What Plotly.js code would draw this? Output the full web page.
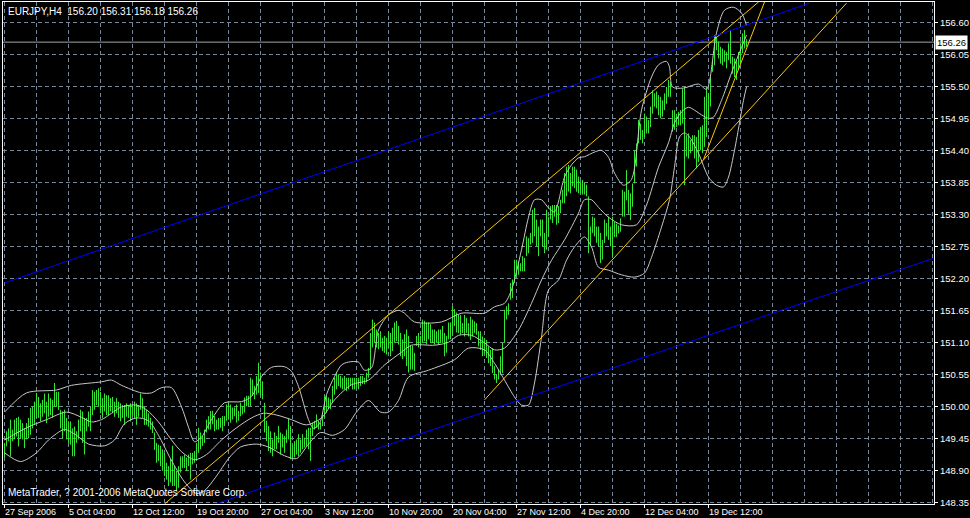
<!DOCTYPE html>
<html>
<head>
<meta charset="utf-8">
<script src="https://cdn.plot.ly/plotly-3.0.1.min.js"></script>
<style>html,body{margin:0;padding:0;background:#000;}#chart{width:970px;height:518px;}</style>
</head>
<body>
<div id="chart"></div>
<script>
// ---- Bar data (H4 bars, index 0 = 27 Sep 2006 20:00) ----
const barHigh = [
149.37,149.57,149.62,149.77,149.60,149.77,149.80,149.82,149.77,149.71,
149.62,149.71,149.80,149.97,149.99,150.08,150.23,150.16,150.05,150.11,
150.22,150.08,150.22,150.14,150.11,150.40,150.25,150.25,149.94,149.91,
149.94,149.80,149.74,149.74,149.62,149.65,149.57,149.77,149.94,149.91,
149.80,149.80,149.91,149.99,150.28,150.25,150.28,150.31,150.25,150.14,
150.22,150.19,150.19,150.14,150.16,150.08,150.14,150.08,150.05,150.02,
150.02,150.05,150.02,150.05,150.02,150.08,150.05,150.02,150.22,150.14,
149.99,149.94,149.88,149.80,149.74,
149.55,149.37,149.34,149.32,149.26,149.20,149.03,148.97,149.09,149.32,
148.97,148.89,148.97,149.14,149.14,149.17,149.12,149.17,149.20,149.20,
149.23,149.37,149.63,149.55,149.49,149.60,149.77,149.83,149.92,149.92,
149.83,149.77,149.80,149.80,149.83,149.83,150.03,150.06,150.03,149.98,
149.98,150.03,149.92,150.06,150.00,150.15,150.18,150.18,150.49,150.46,
150.35,150.52,150.75,150.58,150.43,150.06,149.75,149.66,149.57,149.43,
149.55,149.49,149.66,149.55,149.52,149.49,149.60,149.80,149.66,149.34,
149.40,149.43,149.52,149.43,149.52,149.46,149.60,149.63,149.63,
149.72,149.75,149.86,149.75,149.72,149.89,150.18,150.18,150.15,150.12,
150.35,150.49,150.58,150.55,150.52,150.49,150.52,150.49,150.49,150.49,
150.49,150.49,150.49,150.49,150.52,150.52,150.49,150.58,150.66,151.26,
151.49,151.44,151.32,151.26,151.29,151.18,151.21,151.18,151.29,151.26,
151.35,151.44,151.47,151.38,151.26,151.15,151.24,151.32,151.21,151.04,
151.04,150.92,151.21,151.26,151.21,151.49,151.47,151.44,151.44,151.41,
151.32,151.32,151.29,151.32,151.32,151.38,151.26,151.21,151.44,151.44,
151.72,151.67,151.61,
151.57,151.57,151.43,151.57,151.52,151.43,151.54,151.49,151.46,151.43,
151.29,151.29,151.20,151.17,151.14,151.03,150.97,151.00,150.69,150.54,
150.63,150.86,151.09,151.66,151.72,151.77,152.12,152.18,152.52,152.52,
152.49,152.46,152.58,152.55,152.92,152.89,152.98,153.38,153.41,153.21,
153.09,153.21,153.21,152.98,153.38,153.26,153.44,153.46,153.46,153.46,
153.44,153.55,153.72,154.01,154.12,154.15,154.01,154.12,154.12,154.07,
153.95,153.87,153.89,153.84,153.81,153.61,153.09,153.26,153.24,153.09,
153.09,152.98,152.86,153.21,153.15,153.26,153.09,
153.26,153.17,153.14,153.11,153.23,153.72,153.69,154.06,153.72,153.66,
153.83,154.40,154.52,154.92,154.86,154.75,155.03,154.98,154.92,155.15,
155.43,155.38,155.41,155.35,155.32,155.26,155.38,155.49,155.61,155.58,
155.09,155.09,155.03,155.06,155.09,155.46,155.49,154.66,154.69,154.58,
154.66,154.66,154.63,154.75,154.80,154.83,155.32,155.49,155.38,155.66,
155.95,156.38,156.35,156.27,156.18,156.15,156.12,156.09,156.24,156.47,
156.01,155.98,155.95,156.09,156.24,156.41,156.47,156.31
];
const barLow = [
149.11,149.31,149.40,149.14,149.40,149.43,149.48,149.31,149.45,149.43,
149.28,149.43,149.45,149.51,149.62,149.68,149.80,149.80,149.74,149.82,
149.88,149.71,149.82,149.85,149.80,149.99,149.99,149.94,149.62,149.45,
149.57,149.43,149.37,149.34,149.14,149.14,149.37,149.43,149.57,149.37,
149.17,149.57,149.65,149.57,149.85,149.94,150.02,149.99,149.88,149.80,
149.91,149.85,149.85,149.91,149.88,149.82,149.88,149.80,149.74,149.80,
149.68,149.82,149.80,149.74,149.85,149.80,149.68,149.82,149.94,149.80,
149.68,149.68,149.65,149.60,149.54,
149.25,149.03,149.06,148.97,148.89,148.80,148.74,148.63,148.69,148.63,
148.63,148.54,148.60,148.86,148.94,148.94,148.89,148.97,148.74,149.00,
149.03,149.09,149.20,149.26,149.32,149.37,149.55,149.60,149.60,149.69,
149.57,149.60,149.60,149.63,149.57,149.66,149.75,149.77,149.72,149.77,
149.83,149.72,149.75,149.83,149.86,149.89,150.00,150.00,150.00,150.18,
150.12,150.20,150.23,150.18,150.12,149.55,149.40,149.23,149.20,149.14,
149.26,149.26,149.37,149.17,149.29,149.20,149.37,149.43,149.09,149.12,
149.12,149.17,149.14,149.20,149.26,149.29,149.32,149.26,149.06,
149.49,149.60,149.63,149.60,149.60,149.66,149.80,149.89,149.95,149.95,
150.06,150.20,150.29,150.35,150.32,150.29,150.29,150.26,150.29,150.35,
150.29,150.29,150.32,150.29,150.35,150.38,150.38,150.41,150.49,150.63,
151.01,151.09,151.01,150.98,151.01,150.95,150.92,150.89,151.01,150.86,
150.95,151.09,151.12,151.06,150.86,150.81,150.86,150.69,150.58,150.63,
150.63,150.61,151.04,151.01,151.04,151.09,151.12,151.06,151.15,151.09,
151.09,151.06,151.09,151.06,151.09,151.09,150.86,150.92,151.15,151.15,
151.21,151.38,151.27,
151.26,151.23,151.26,151.20,151.26,151.20,151.14,151.20,151.26,151.23,
151.03,150.97,150.86,150.91,150.83,150.74,150.69,150.57,150.46,150.40,
150.46,150.57,150.57,151.09,151.49,151.57,151.83,151.86,152.12,152.23,
152.26,152.32,152.32,152.32,152.58,152.63,152.78,152.81,152.92,152.75,
152.58,152.92,152.75,152.63,152.69,152.92,153.21,153.15,153.26,153.12,
153.15,153.32,153.49,153.49,153.61,153.69,153.66,153.78,153.75,153.69,
153.66,153.66,153.64,153.64,153.61,152.63,152.75,152.98,152.92,152.81,
152.75,152.46,152.52,152.81,152.92,152.86,152.75,
152.57,152.91,152.91,152.97,153.00,153.26,153.26,153.54,153.31,153.20,
153.43,153.83,154.12,154.52,154.58,154.52,154.63,154.69,154.69,154.80,
155.03,155.15,155.12,155.00,154.95,154.98,155.09,155.20,155.32,155.32,
154.72,154.75,154.80,154.83,154.83,154.86,153.80,154.29,154.26,154.35,
154.40,154.26,154.09,154.20,154.40,154.35,154.46,154.63,154.92,155.15,
155.75,155.86,156.12,155.98,155.89,155.86,155.92,155.81,155.95,155.89,
155.72,155.66,155.61,155.78,155.89,156.07,156.15,156.18
];

// ---- Bollinger bands (read at sample bars) ----
const bbUpperIdx = [0,11,26,33.5,48.5,53.5,58.5,68.5,73.5,78.5,83.5,88.5,92,95,98.5,103.5,110,118.5,123.5,128.5,133.5,140,143.5,147,152,154.5,157.5,161,165,168.5,172,177,180,183.5,187,192,197,200,205,218.5,228.5,240,245,250,253.5,258.5,262,265,268.5,272,275,280,283.5,287,290,295,298.5,302,305,309.5,313.5,318.5,323.5,327,331,332.5,334,339.5,347,351,356,360,364.5,368.5,371];
const bbUpperVal = [149.9,150.23,150.28,150.36,150.42,150.45,150.36,150.23,150.23,150.32,150.32,149.99,149.64,149.39,149.47,149.77,150.06,150.08,150.17,150.51,150.67,150.68,150.60,150.34,149.77,149.62,149.70,150.20,150.51,150.71,150.76,150.76,150.62,150.66,151.31,151.57,151.65,151.60,151.45,151.45,151.60,151.60,151.71,151.77,152.00,152.69,153.25,153.55,153.55,153.41,153.34,153.94,154.15,154.27,154.29,154.37,154.40,154.28,154.01,153.80,153.90,155.09,155.66,155.87,155.93,155.83,155.49,155.47,155.54,155.45,156.42,156.81,156.86,156.76,156.55];
const bbMidIdx = [0,11,21,31,38.5,43.5,48.5,53.5,58.5,66,71,77,83.5,88.5,95,101,108.5,116,123.5,129.5,136,143.5,151,158.5,165,173.5,182,190,198.5,203.5,215,222,227,233.5,240,245,250,257,263.5,268.5,273.5,280,287,290,293.5,297,302,308.5,316,321,327,332,335,338.5,342,345,348.5,352,354.5,358.5,363.5,367,371];
const bbMidVal = [149.42,149.63,149.77,149.90,149.81,149.73,149.77,149.88,149.99,150.02,149.94,149.73,149.42,149.22,149.08,149.17,149.42,149.63,149.80,149.88,149.85,149.77,149.68,149.80,150.11,150.37,150.45,150.71,150.93,151.05,151.05,151.10,151.22,151.22,151.09,150.97,151.00,151.31,151.77,152.17,152.51,152.86,153.32,153.55,153.55,153.42,153.25,153.12,153.12,153.46,154.11,154.53,154.87,155.06,155.14,155.09,155.01,154.95,154.97,155.26,155.73,156.04,156.38];
const bbLowerIdx = [0,8,16,22,30,36,42,50,55,60,66,72,77,83,90,96,100,106,112,118,126,132,140,146,152,158,164,170,176,182,188,192,197,202,212,225,232,240,245,250,255,258.5,262,265,268.5,272,277,281,285,290,293.5,297,302,308.5,315,320,323.5,328.5,332.5,335,337.5,340,342.5,347,352,356,359.5,362,365,367.5,369.5,371];
const bbLowerVal = [149.2,149.05,149.2,149.42,149.6,149.5,149.35,149.32,149.42,149.7,149.8,149.75,149.5,149.1,148.7,148.5,148.55,148.8,149.1,149.3,149.35,149.3,149.15,149.1,149.35,149.55,149.5,149.6,149.9,150.1,149.9,149.9,150.1,150.5,150.62,150.8,151.0,150.97,150.74,150.45,150.16,150.02,150.02,150.4,151.19,152.0,152.17,152.51,152.74,152.91,152.74,152.39,152.34,152.26,152.22,152.29,152.56,153.08,153.55,154.11,154.63,154.70,154.63,154.35,153.94,153.80,153.77,153.94,154.40,154.87,155.26,155.49];

// ---- Hand-drawn lines (bar index, price) ----
const goldLine1 = {i:[80,377], p:[148.32,156.95]};
const goldLine2 = {i:[240,421], p:[150.11,156.93]};
const goldLine3 = {i:[349.5,380], p:[154.24,156.95]};
const blueLine1 = {i:[0,402.5], p:[152.12,156.93]};
const blueLine2 = {i:[105.5,465], p:[148.32,152.55]};
const lastPrice = 156.26;

// ---- Axis ticks ----
const xTickIdx = [0,32,64,96,128,160,192,224,256,288,320,352];
const xTickText = ['27 Sep 2006','5 Oct 04:00','12 Oct 12:00','19 Oct 20:00','27 Oct 04:00','3 Nov 12:00','10 Nov 20:00','20 Nov 04:00','27 Nov 12:00','4 Dec 20:00','12 Dec 04:00','19 Dec 12:00'];
const yTickVals = [148.35,148.90,149.45,150.00,150.55,151.10,151.65,152.20,152.75,153.30,153.85,154.40,154.95,155.50,156.05,156.60];

const bx = [], by = [];
for (let i = 0; i < barHigh.length; i++) { bx.push(i, i, null); by.push(barLow[i], barHigh[i], null); }

const FONT = 'Liberation Sans, Arial, sans-serif';
const GRID = '#778899';
const xR = [-0.75, 464.75];

const traces = [
  {x: xR, y: [lastPrice, lastPrice], mode: 'lines', line: {color: '#a4a4a4', width: 1}, hoverinfo: 'skip'},
  {x: bx, y: by, mode: 'lines', line: {color: '#33e633', width: 1}, hoverinfo: 'skip'},
  {x: bbUpperIdx, y: bbUpperVal, mode: 'lines', line: {color: '#c8c8c8', width: 1, shape: 'spline', smoothing: 0.8}, hoverinfo: 'skip'},
  {x: bbMidIdx, y: bbMidVal, mode: 'lines', line: {color: '#c8c8c8', width: 1, shape: 'spline', smoothing: 0.8}, hoverinfo: 'skip'},
  {x: bbLowerIdx, y: bbLowerVal, mode: 'lines', line: {color: '#c8c8c8', width: 1, shape: 'spline', smoothing: 0.8}, hoverinfo: 'skip'},
  {x: goldLine1.i, y: goldLine1.p, mode: 'lines', line: {color: '#ffc800', width: 1}, hoverinfo: 'skip'},
  {x: goldLine2.i, y: goldLine2.p, mode: 'lines', line: {color: '#ffc800', width: 1}, hoverinfo: 'skip'},
  {x: goldLine3.i, y: goldLine3.p, mode: 'lines', line: {color: '#ffc800', width: 1}, hoverinfo: 'skip'},
  {x: blueLine1.i, y: blueLine1.p, mode: 'lines', line: {color: '#0000ff', width: 1}, hoverinfo: 'skip'},
  {x: blueLine2.i, y: blueLine2.p, mode: 'lines', line: {color: '#0000ff', width: 1}, hoverinfo: 'skip'}
];

const annotations = [
  {xref: 'paper', yref: 'paper', x: 0, y: 1, xanchor: 'left', yanchor: 'top', xshift: 3, yshift: -2,
   text: 'EURJPY,H4\u00a0\u00a0156.20 156.31 156.18 156.26', showarrow: false, font: {family: FONT, color: '#fff', size: 10}},
  {xref: 'paper', yref: 'paper', x: 0, y: 0, xanchor: 'left', yanchor: 'bottom', xshift: 3, yshift: 4,
   text: 'MetaTrader, ? 2001-2006 MetaQuotes Software Corp.', showarrow: false, font: {family: FONT, color: '#fff', size: 10}},
  {xref: 'paper', yref: 'y', x: 1, y: lastPrice, xanchor: 'left', yanchor: 'middle', xshift: 1,
   text: lastPrice.toFixed(2), showarrow: false, bgcolor: '#fff', borderpad: 1, font: {family: FONT, color: '#000', size: 9.5}}
];
xTickIdx.forEach((v, k) => annotations.push({
  xref: 'x', yref: 'paper', x: v, y: 0, xanchor: 'left', yanchor: 'top', xshift: -1, yshift: -2,
  text: xTickText[k], showarrow: false, borderpad: 0, font: {family: FONT, color: '#fff', size: 9}
}));

const layout = {
  width: 970, height: 518,
  paper_bgcolor: '#000', plot_bgcolor: '#000',
  margin: {l: 3, r: 36, t: 2, b: 14, pad: 0},
  showlegend: false,
  font: {family: FONT, color: '#fff', size: 9.5},
  xaxis: {
    range: xR, fixedrange: true, zeroline: false,
    tickmode: 'array', tickvals: xTickIdx, showticklabels: false,
    ticks: 'outside', ticklen: 3, tickcolor: '#fff',
    showgrid: true, gridcolor: GRID, griddash: '4px,3px', gridwidth: 1,
    minor: {tick0: 0, dtick: 16, showgrid: true, gridcolor: GRID, griddash: '4px,3px', gridwidth: 1, ticks: ''},
    showline: true, mirror: true, linecolor: '#fff', linewidth: 1
  },
  yaxis: {
    range: [148.32, 156.95], side: 'right', fixedrange: true, zeroline: false,
    tickmode: 'array', tickvals: yTickVals, ticktext: yTickVals.map(v => v.toFixed(2)),
    ticks: 'outside', ticklen: 3, tickcolor: '#fff',
    tickfont: {family: FONT, color: '#fff', size: 9.5},
    showgrid: true, gridcolor: GRID, griddash: '4px,3px', gridwidth: 1,
    showline: true, mirror: true, linecolor: '#fff', linewidth: 1
  },
  annotations: annotations
};

Plotly.newPlot('chart', traces, layout, {staticPlot: true, displayModeBar: false});
</script>
</body>
</html>
